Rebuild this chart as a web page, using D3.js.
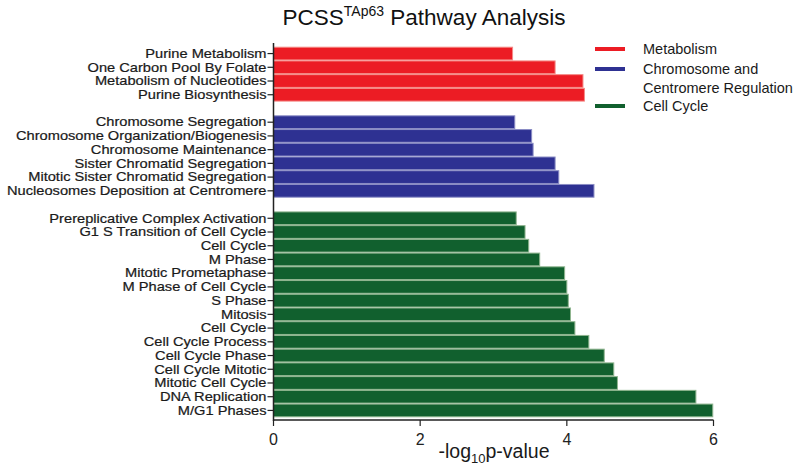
<!DOCTYPE html>
<html><head><meta charset="utf-8">
<script src="https://cdn.jsdelivr.net/npm/d3@7"></script>
<style>body{margin:0;background:#fff;} svg{display:block;font-family:"Liberation Sans",Arial,sans-serif;}</style>
</head><body><div id="chart"></div>
<script>
const metabolismLabels = ["Purine Metabolism","One Carbon Pool By Folate","Metabolism of Nucleotides","Purine Biosynthesis"];
const metabolismValues = [3.26,3.84,4.22,4.24];
const chromosomeLabels = ["Chromosome Segregation","Chromosome Organization/Biogenesis","Chromosome Maintenance","Sister Chromatid Segregation","Mitotic Sister Chromatid Segregation","Nucleosomes Deposition at Centromere"];
const chromosomeValues = [3.29,3.52,3.54,3.84,3.89,4.37];
const cellCycleLabels = ["Prereplicative Complex Activation","G1 S Transition of Cell Cycle","Cell Cycle","M Phase","Mitotic Prometaphase","M Phase of Cell Cycle","S Phase","Mitosis","Cell Cycle","Cell Cycle Process","Cell Cycle Phase","Cell Cycle Mitotic","Mitotic Cell Cycle","DNA Replication","M/G1 Phases"];
const cellCycleValues = [3.31,3.43,3.48,3.63,3.97,4.00,4.02,4.05,4.11,4.30,4.51,4.64,4.69,5.76,5.99];
const groupNames = ["Metabolism","Chromosome and\nCentromere Regulation","Cell Cycle"];
const groupColors = ["#ec1c24","#2e3192","#11602e"];
const groupStroke = ["#f58a86","#8a8cc4","#8fb58f"];
const xTicks = [0,2,4,6];

const W=801,H=468;
const svg=d3.select("#chart").append("svg").attr("width",W).attr("height",H);

const groups=[[metabolismLabels,metabolismValues],[chromosomeLabels,chromosomeValues],[cellCycleLabels,cellCycleValues]];
const rows=[];
groups.forEach((g,gi)=>{
  if(gi>0) rows.push({key:"gap"+gi,gap:true});
  g[0].forEach((l,i)=>rows.push({key:gi+"_"+i,label:l,value:g[1][i],group:gi}));
});

const x=d3.scaleLinear().domain([0,6]).range([273.5,713.5]);
const y=d3.scaleBand().domain(rows.map(r=>r.key)).range([46.7,417.3]).padding(0);

svg.append("g").selectAll("rect").data(rows.filter(r=>!r.gap)).join("rect")
  .attr("x",x(0)).attr("y",d=>y(d.key)+0.5)
  .attr("width",d=>x(d.value)-x(0)).attr("height",y.bandwidth()-1)
  .attr("fill",d=>groupColors[d.group])
  .attr("stroke",d=>groupStroke[d.group]).attr("stroke-width",1);

const yAxis=svg.append("g").attr("transform",`translate(${x(0)},0)`);
yAxis.append("line").attr("x1",0).attr("x2",0).attr("y1",43).attr("y2",421).attr("stroke","#222").attr("stroke-width",1.5);
const yl=yAxis.selectAll("g.t").data(rows.filter(r=>!r.gap)).join("g").attr("class","t")
  .attr("transform",d=>`translate(0,${y(d.key)+y.bandwidth()/2})`);
yl.append("line").attr("x1",-6).attr("x2",0).attr("stroke","#222").attr("stroke-width",1.2);
const sx=1.2;
yl.append("text").attr("transform",`scale(${sx},1)`).attr("x",-7/sx).attr("dy","0.35em").attr("text-anchor","end")
  .attr("font-size",12.2).attr("fill","#1a1a1a").attr("stroke","#1a1a1a").attr("stroke-width",0.2).text(d=>d.label);

const xAxis=svg.append("g").attr("transform",`translate(0,420)`);
xAxis.append("line").attr("x1",x(0)).attr("x2",x(6)).attr("stroke","#222").attr("stroke-width",1.5);
const xt=xAxis.selectAll("g").data(xTicks).join("g").attr("transform",d=>`translate(${x(d)},0)`);
xt.append("line").attr("y1",0).attr("y2",6).attr("stroke","#222").attr("stroke-width",1.2);
xt.append("text").attr("y",25).attr("text-anchor","middle").attr("font-size",16).attr("fill","#222").text(d=>d);

const xt2=svg.append("text").attr("x",494).attr("y",458).attr("text-anchor","middle").attr("font-size",19.5).attr("fill","#1a1a1a");
xt2.append("tspan").text("-log");
xt2.append("tspan").attr("font-size",13).attr("dy",5).text("10");
xt2.append("tspan").attr("dy",-5).text("p-value");

const t=svg.append("text").attr("x",424).attr("y",25).attr("text-anchor","middle").attr("font-size",22.5).attr("fill","#111");
t.append("tspan").text("PCSS");
t.append("tspan").attr("font-size",14).attr("dy",-9).text("TAp63");
t.append("tspan").attr("dy",9).text(" Pathway Analysis");

const legY=[49,69,106];
const leg=svg.append("g");
groupNames.forEach((n,i)=>{
  leg.append("line").attr("x1",595).attr("x2",625).attr("y1",legY[i]).attr("y2",legY[i]).attr("stroke",groupColors[i]).attr("stroke-width",4);
  const lines=n.split("\n");
  lines.forEach((s,j)=>{
    leg.append("text").attr("x",643).attr("y",legY[i]+j*18.5).attr("dy","0.35em").attr("font-size",14.5).attr("fill","#1a1a1a").text(s);
  });
});
</script></body></html>
